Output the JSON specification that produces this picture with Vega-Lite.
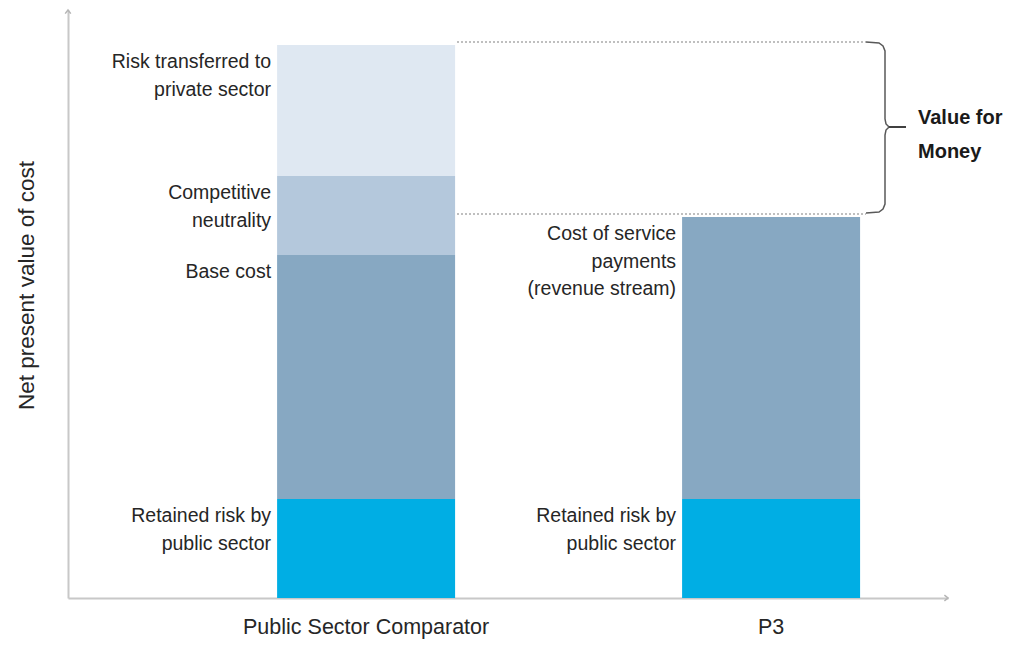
{
  "$schema": "https://vega.github.io/schema/vega-lite/v6.json",
  "width": 880,
  "height": 588,
  "autosize": {"type": "none"},
  "padding": {"left": 68, "top": 10, "right": 67, "bottom": 47},
  "background": "white",
  "config": {
    "view": {"stroke": null},
    "font": "Liberation Sans",
    "text": {"lineBreak": "\n"}
  },
  "datasets": {
    "costs": [
      {"option": "Public Sector Comparator", "component": "Retained risk by public sector", "label": "Retained risk by\npublic sector", "order": 1, "value": 99},
      {"option": "Public Sector Comparator", "component": "Base cost", "label": "Base cost", "order": 2, "value": 244},
      {"option": "Public Sector Comparator", "component": "Competitive neutrality", "label": "Competitive\nneutrality", "order": 3, "value": 79},
      {"option": "Public Sector Comparator", "component": "Risk transferred to private sector", "label": "Risk transferred to\nprivate sector", "order": 4, "value": 131},
      {"option": "P3", "component": "Retained risk by public sector", "label": "Retained risk by\npublic sector", "order": 1, "value": 99},
      {"option": "P3", "component": "Cost of service payments (revenue stream)", "label": "Cost of service\npayments\n(revenue stream)", "order": 2, "value": 282}
    ],
    "gaps": [
      {"edge": "PSC total", "level": 556, "from": 389, "to": 798},
      {"edge": "P3 total", "level": 384, "from": 389, "to": 798}
    ],
    "brace": [
      {"order": 1, "bx": 798, "by": 556},
      {"order": 2, "bx": 811, "by": 555},
      {"order": 3, "bx": 815, "by": 552},
      {"order": 4, "bx": 817, "by": 547},
      {"order": 5, "bx": 817, "by": 479},
      {"order": 6, "bx": 818, "by": 474},
      {"order": 7, "bx": 821, "by": 471},
      {"order": 8, "bx": 818, "by": 468},
      {"order": 9, "bx": 817, "by": 463},
      {"order": 10, "bx": 817, "by": 394},
      {"order": 11, "bx": 815, "by": 389},
      {"order": 12, "bx": 811, "by": 386},
      {"order": 13, "bx": 798, "by": 385}
    ],
    "tip": [{"from": 821, "to": 838, "level": 471}],
    "arrows": [
      {"axis": "y", "ax": 0, "ay": 588, "dir": "up"},
      {"axis": "x", "ax": 880, "ay": 0, "dir": "right"}
    ],
    "vfm": [{"tx": 850, "ty": 480, "text": "Value for\nMoney"}]
  },
  "layer": [
    {
      "data": {"name": "costs"},
      "transform": [
        {"stack": "value", "groupby": ["option"], "sort": [{"field": "order", "order": "ascending"}], "as": ["y0", "y1"]}
      ],
      "layer": [
        {
          "mark": {"type": "bar"},
          "encoding": {
            "x": {
              "field": "option", "type": "nominal",
              "sort": ["Public Sector Comparator", "P3"],
              "scale": {"paddingInner": 0.5605, "paddingOuter": 0.3667, "align": 0.704},
              "axis": {"title": null, "labelAngle": 0, "ticks": false, "labelFontSize": 21.5, "labelLimit": 500, "labelPadding": 18, "labelColor": "#262626", "domainColor": "#c8c8c8", "domainWidth": 2, "grid": false}
            },
            "y": {
              "field": "y0", "type": "quantitative",
              "scale": {"domain": [0, 588], "nice": false, "zero": false},
              "axis": {"title": "Net present value of cost", "labels": false, "ticks": false, "grid": false, "domainColor": "#c8c8c8", "domainWidth": 2, "titleFontSize": 22.5, "titleFontWeight": "normal", "titleColor": "#262626", "titlePadding": 30, "titleY": 275}
            },
            "y2": {"field": "y1"},
            "color": {
              "field": "component", "type": "nominal",
              "scale": {
                "domain": ["Retained risk by public sector", "Base cost", "Competitive neutrality", "Risk transferred to private sector", "Cost of service payments (revenue stream)"],
                "range": ["#00aee4", "#87a8c2", "#b4c8dc", "#dfe8f2", "#87a8c2"]
              },
              "legend": null
            }
          }
        },
        {
          "mark": {"type": "text", "align": "right", "baseline": "top", "dx": -6, "dy": 8, "fontSize": 19.5, "lineHeight": 27.5, "color": "#262626"},
          "encoding": {
            "x": {"field": "option", "type": "nominal", "bandPosition": 0, "sort": ["Public Sector Comparator", "P3"]},
            "y": {"field": "y1", "type": "quantitative", "scale": {"domain": [0, 588], "nice": false, "zero": false}},
            "text": {"field": "label"}
          }
        }
      ]
    },
    {
      "layer": [
        {
          "data": {"name": "gaps"},
          "mark": {"type": "rule", "strokeDash": [2, 2], "color": "#808080", "strokeWidth": 1.2},
          "encoding": {
            "x": {"field": "from", "type": "quantitative", "scale": {"domain": [0, 880], "nice": false, "zero": false}, "axis": null},
            "x2": {"field": "to"},
            "y": {"field": "level", "type": "quantitative", "scale": {"domain": [0, 588], "nice": false, "zero": false}}
          }
        },
        {
          "data": {"name": "brace"},
          "mark": {"type": "line", "color": "#595959", "strokeWidth": 1.5},
          "encoding": {
            "x": {"field": "bx", "type": "quantitative", "scale": {"domain": [0, 880], "nice": false, "zero": false}, "axis": null},
            "y": {"field": "by", "type": "quantitative", "scale": {"domain": [0, 588], "nice": false, "zero": false}},
            "order": {"field": "order"}
          }
        },
        {
          "data": {"name": "tip"},
          "mark": {"type": "rule", "color": "#404040", "strokeWidth": 2},
          "encoding": {
            "x": {"field": "from", "type": "quantitative", "scale": {"domain": [0, 880], "nice": false, "zero": false}, "axis": null},
            "x2": {"field": "to"},
            "y": {"field": "level", "type": "quantitative", "scale": {"domain": [0, 588], "nice": false, "zero": false}}
          }
        },
        {
          "data": {"name": "arrows"},
          "mark": {"type": "point", "filled": false, "stroke": "#b5b5b5", "strokeWidth": 1.5, "size": 64, "opacity": 1},
          "encoding": {
            "x": {"field": "ax", "type": "quantitative", "scale": {"domain": [0, 880], "nice": false, "zero": false}, "axis": null},
            "y": {"field": "ay", "type": "quantitative", "scale": {"domain": [0, 588], "nice": false, "zero": false}},
            "shape": {
              "field": "dir", "type": "nominal",
              "scale": {"domain": ["up", "right"], "range": ["M-0.7,0.9L0,0L0.7,0.9", "M-0.9,-0.7L0,0L-0.9,0.7"]},
              "legend": null
            }
          }
        },
        {
          "data": {"name": "vfm"},
          "mark": {"type": "text", "align": "left", "baseline": "middle", "fontSize": 20, "fontWeight": "bold", "lineHeight": 34, "color": "#1a1a1a"},
          "encoding": {
            "x": {"field": "tx", "type": "quantitative", "scale": {"domain": [0, 880], "nice": false, "zero": false}, "axis": null},
            "y": {"field": "ty", "type": "quantitative", "scale": {"domain": [0, 588], "nice": false, "zero": false}},
            "text": {"field": "text"}
          }
        }
      ]
    }
  ],
  "resolve": {"scale": {"x": "independent"}}
}
